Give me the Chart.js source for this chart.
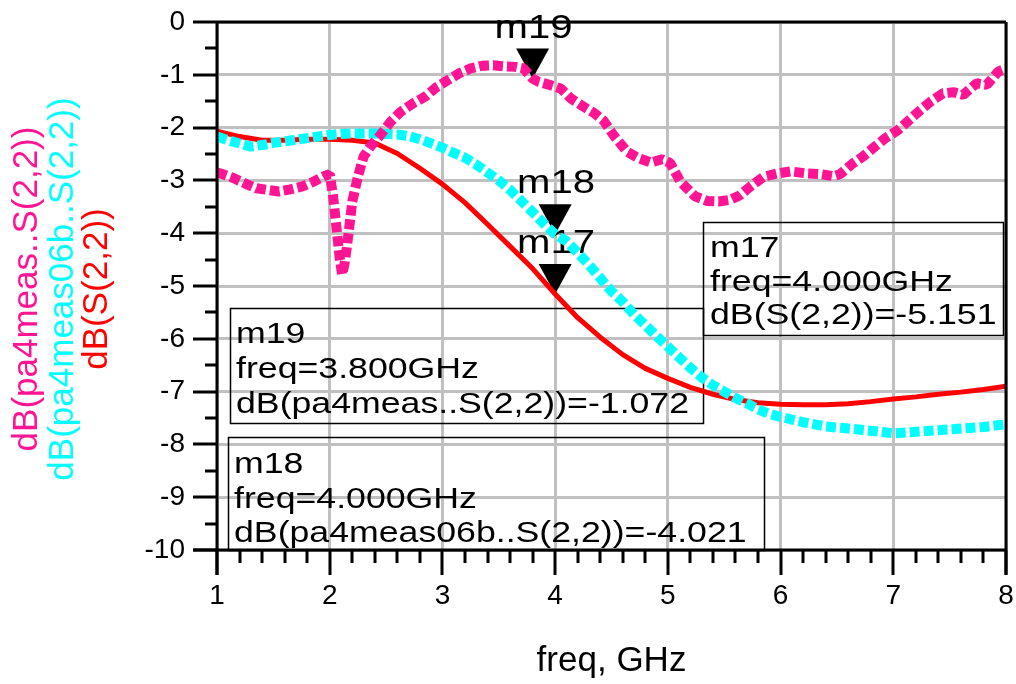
<!DOCTYPE html>
<html>
<head>
<meta charset="utf-8">
<script src="https://cdn.jsdelivr.net/npm/chart.js@4.4.1/dist/chart.umd.min.js"></script>
<style>
  html, body { margin: 0; padding: 0; background: #ffffff; }
  #wrap { width: 1016px; height: 684px; }
</style>
</head>
<body>
<div id="wrap"><canvas id="c" width="1016" height="684"></canvas></div>
<script>
// ---- data -------------------------------------------------------------
// dB(S(2,2)) – simulated output match
const simFreq = [1.0, 1.2, 1.4, 1.6, 1.8, 2.0, 2.2, 2.4, 2.6, 2.8, 3.0, 3.2, 3.4, 3.6, 3.8, 4.0,
  4.2, 4.4, 4.6, 4.8, 5.0, 5.2, 5.4, 5.6, 5.8, 6.0, 6.2, 6.4, 6.6, 6.8, 7.0, 7.2, 7.4, 7.6, 7.8, 8.0];
const simS22 = [-2.07, -2.17, -2.24, -2.24, -2.22, -2.22, -2.24, -2.29, -2.49, -2.77, -3.07, -3.42, -3.83, -4.25, -4.67, -5.151,
  -5.6, -5.97, -6.3, -6.56, -6.75, -6.92, -7.05, -7.15, -7.21, -7.24, -7.25, -7.25, -7.23, -7.19, -7.14, -7.1, -7.05, -7.01, -6.96, -6.9];

// dB(pa4meas06b..S(2,2))
const meas06bFreq = [1.0, 1.1, 1.2, 1.3, 1.4, 1.5, 1.6, 1.7, 1.8, 1.9, 2.0, 2.1, 2.2, 2.3, 2.4, 2.5, 2.6, 2.7, 2.8, 2.9,
  3.0, 3.1, 3.2, 3.3, 3.4, 3.5, 3.6, 3.7, 3.8, 3.9, 4.0, 4.1, 4.2, 4.3, 4.4, 4.5, 4.6, 4.7, 4.8, 4.9,
  5.0, 5.1, 5.2, 5.3, 5.4, 5.5, 5.6, 5.7, 5.8, 5.9, 6.0, 6.2, 6.4, 6.6, 6.8, 7.0, 7.2, 7.4, 7.6, 7.8, 8.0];
const meas06bS22 = [-2.17, -2.24, -2.3, -2.36, -2.33, -2.29, -2.26, -2.23, -2.2, -2.17, -2.14, -2.12, -2.11, -2.11, -2.11, -2.12, -2.13, -2.16, -2.22, -2.3,
  -2.38, -2.48, -2.57, -2.7, -2.85, -3.0, -3.18, -3.39, -3.6, -3.82, -4.021, -4.15, -4.37, -4.6, -4.85, -5.1, -5.3, -5.54, -5.74, -5.95,
  -6.15, -6.35, -6.55, -6.73, -6.88, -7.0, -7.12, -7.22, -7.34, -7.42, -7.48, -7.58, -7.66, -7.7, -7.74, -7.79, -7.76, -7.73, -7.7, -7.67, -7.62];

// dB(pa4meas..S(2,2))
const measFreq = [1.0, 1.05, 1.15, 1.25, 1.35, 1.45, 1.55, 1.65, 1.75, 1.85, 1.95, 2.0, 2.03, 2.05, 2.07, 2.09, 2.11, 2.13, 2.15, 2.17,
  2.2, 2.25, 2.3, 2.36, 2.45, 2.54, 2.63, 2.74, 2.85, 2.95, 3.05, 3.15, 3.25, 3.35, 3.45, 3.55, 3.65, 3.72, 3.8, 3.85,
  3.95, 4.05, 4.14, 4.25, 4.35, 4.43, 4.52, 4.64, 4.74, 4.85, 4.95, 5.02, 5.11, 5.24, 5.35, 5.45, 5.55, 5.64, 5.73, 5.85,
  5.97, 6.09, 6.24, 6.35, 6.47, 6.53, 6.64, 6.73, 6.82, 6.93, 7.04, 7.14, 7.24, 7.33, 7.44, 7.54, 7.62, 7.74, 7.83, 7.93, 8.0];
const measS22 = [-2.85, -2.88, -2.96, -3.06, -3.15, -3.18, -3.21, -3.17, -3.12, -3.03, -2.92, -2.88, -3.3, -3.7, -4.1, -4.5, -4.78, -4.6, -4.3, -3.95,
  -3.4, -2.93, -2.55, -2.36, -2.14, -1.89, -1.7, -1.54, -1.41, -1.23, -1.1, -0.97, -0.88, -0.83, -0.82, -0.84, -0.85, -0.88, -1.072, -1.13,
  -1.19, -1.26, -1.45, -1.6, -1.73, -1.87, -2.15, -2.46, -2.58, -2.66, -2.6, -2.67, -3.02, -3.3, -3.39, -3.4, -3.37, -3.28, -3.12, -2.93,
  -2.87, -2.83, -2.87, -2.88, -2.92, -2.88, -2.68, -2.55, -2.39, -2.2, -2.05, -1.86, -1.67, -1.51, -1.35, -1.33, -1.38, -1.16, -1.19, -0.94, -0.88];

const seriesLabels = ['dB(pa4meas..S(2,2))', 'dB(pa4meas06b..S(2,2))', 'dB(S(2,2))'];
const seriesColors = ['#FF1493', '#00FFFF', '#FF0000'];

// markers: name, frequency (GHz), value (dB), index of the trace it sits on
const markerNames = ['m19', 'm18', 'm17'];
const markerFreqs = [3.8, 4.0, 4.0];
const markerValues = [-1.072, -4.021, -5.151];
const markerSeries = [0, 1, 2];

const xTicks = [1, 2, 3, 4, 5, 6, 7, 8];
const yTicks = [0, -1, -2, -3, -4, -5, -6, -7, -8, -9, -10];

// ---- drawing ----------------------------------------------------------
const FONT = "'Liberation Sans', Arial, sans-serif";

function toPoints(xs, ys) { return xs.map((f, i) => ({ x: f, y: ys[i] })); }

function stretchedText(ctx, text, x, y, size, sx, align) {
  ctx.save();
  ctx.font = size + 'px ' + FONT;
  ctx.textBaseline = 'alphabetic';
  const w = ctx.measureText(text).width * sx;
  let left = x;
  if (align === 'center') left = x - w / 2;
  ctx.translate(left, y);
  ctx.scale(sx, 1);
  ctx.textAlign = 'left';
  ctx.fillText(text, 0, 0);
  ctx.restore();
}

// readout box placement (pixels) for each marker
const readoutBoxes = {
  m17: { left: 703, top: 222, right: 1003, bottom: 335, textX: 710, base: [257, 291, 324] },
  m19: { left: 230, top: 308, right: 703, bottom: 423, textX: 236, base: [343, 378, 413] },
  m18: { left: 228, top: 437, right: 764, bottom: 550, textX: 234, base: [473, 508, 542] }
};

const overlay = {
  id: 'overlay',
  beforeDatasetsDraw(chart) {
    const { ctx, scales: { x, y } } = chart;
    ctx.save();
    ctx.fillStyle = '#000';
    ctx.strokeStyle = '#000';
    // readout boxes
    markerNames.forEach((name, i) => {
      const b = readoutBoxes[name];
      ctx.lineWidth = 1.5;
      ctx.strokeRect(b.left + 0.5, b.top + 0.5, b.right - b.left, b.bottom - b.top);
      const lines = [
        name,
        'freq=' + markerFreqs[i].toFixed(3) + 'GHz',
        seriesLabels[markerSeries[i]] + '=' + markerValues[i].toFixed(3)
      ];
      lines.forEach((t, k) => stretchedText(ctx, t, b.textX, b.base[k], 29, 1.23, 'left'));
    });
    // marker triangles with names
    markerNames.forEach((name, i) => {
      const px = x.getPixelForValue(markerFreqs[i]);
      const py = y.getPixelForValue(markerValues[i]);
      ctx.beginPath();
      ctx.moveTo(px, py);
      ctx.lineTo(px - 16.5, py - 30);
      ctx.lineTo(px + 16.5, py - 30);
      ctx.closePath();
      ctx.fill();
      stretchedText(ctx, name, px + 1, py - 41, 34, 1.18, 'center');
    });
    ctx.restore();
  },
  afterDraw(chart) {
    const { ctx, chartArea: a, scales: { x, y } } = chart;
    ctx.save();
    ctx.strokeStyle = '#000';
    ctx.lineWidth = 3;
    ctx.lineCap = 'butt';
    // frame
    ctx.beginPath();
    ctx.moveTo(a.left, a.top); ctx.lineTo(a.right, a.top);
    ctx.moveTo(a.right, a.top); ctx.lineTo(a.right, a.bottom + 25);
    ctx.moveTo(a.left, a.top); ctx.lineTo(a.left, a.bottom + 25);
    ctx.moveTo(a.left - 24, a.bottom); ctx.lineTo(a.right, a.bottom);
    ctx.stroke();
    // x ticks: major every 1 GHz, minor every 0.2 GHz
    ctx.beginPath();
    for (let k = 0; k <= 35; k++) {
      const f = 1 + k * 0.2;
      const px = Math.round(x.getPixelForValue(f));
      const len = (k % 5 === 0) ? 25 : 13;
      ctx.moveTo(px, a.bottom); ctx.lineTo(px, a.bottom + len);
    }
    // y ticks: major every 1 dB, minor every 0.5 dB
    for (let k = 0; k <= 20; k++) {
      const v = -k * 0.5;
      const py = Math.round(y.getPixelForValue(v));
      const len = (k % 2 === 0) ? 24 : 12;
      ctx.moveTo(a.left - len, py); ctx.lineTo(a.left, py);
    }
    ctx.stroke();
    // rotated trace titles on the left
    const cy = (a.top + a.bottom) / 2 + 3;
    const baseX = [37, 73, 107];
    seriesLabels.forEach((t, i) => {
      ctx.save();
      ctx.translate(baseX[i], cy);
      ctx.rotate(-Math.PI / 2);
      ctx.font = '35px ' + FONT;
      ctx.fillStyle = seriesColors[i];
      ctx.textAlign = 'center';
      ctx.textBaseline = 'alphabetic';
      ctx.fillText(t, 0, 0);
      ctx.restore();
    });
    ctx.restore();
  }
};

const dotted = { borderWidth: 10, borderDash: [10, 4], borderCapStyle: 'butt', borderJoinStyle: 'bevel' };

new Chart(document.getElementById('c'), {
  type: 'line',
  data: {
    datasets: [
      Object.assign({ label: seriesLabels[0], data: toPoints(measFreq, measS22), borderColor: seriesColors[0] }, dotted),
      Object.assign({ label: seriesLabels[1], data: toPoints(meas06bFreq, meas06bS22), borderColor: seriesColors[1] }, dotted),
      { label: seriesLabels[2], data: toPoints(simFreq, simS22), borderColor: seriesColors[2], borderWidth: 5, borderJoinStyle: 'round' }
    ]
  },
  options: {
    responsive: false,
    devicePixelRatio: 1,
    animation: false,
    elements: { point: { radius: 0, hoverRadius: 0 }, line: { tension: 0, fill: false } },
    layout: { padding: { top: 22, right: 10, left: 0, bottom: 0 } },
    plugins: { legend: { display: false }, tooltip: { enabled: false } },
    events: [],
    scales: {
      x: {
        type: 'linear', min: 1, max: 8,
        afterBuildTicks(s) { s.ticks = xTicks.map(v => ({ value: v })); },
        afterFit(s) { s.height = 134; s.paddingLeft = 0; s.paddingRight = 0; },
        ticks: { autoSkip: false, maxRotation: 0, font: { family: FONT, size: 28 }, color: '#000', padding: 29 },
        grid: { color: '#c0c0c0', lineWidth: 3, drawTicks: false },
        border: { display: false },
        title: { display: true, text: 'freq, GHz', font: { family: FONT, size: 35 }, color: '#000', padding: { top: 0, bottom: 2 } }
      },
      y: {
        type: 'linear', min: -10, max: 0,
        afterBuildTicks(s) { s.ticks = yTicks.map(v => ({ value: v })); },
        afterFit(s) { s.width = 217; s.paddingTop = 0; s.paddingBottom = 0; },
        ticks: { autoSkip: false, font: { family: FONT, size: 28 }, color: '#000', padding: 32 },
        grid: { color: '#c0c0c0', lineWidth: 3, drawTicks: false },
        border: { display: false }
      }
    }
  },
  plugins: [overlay]
});
</script>
</body>
</html>
